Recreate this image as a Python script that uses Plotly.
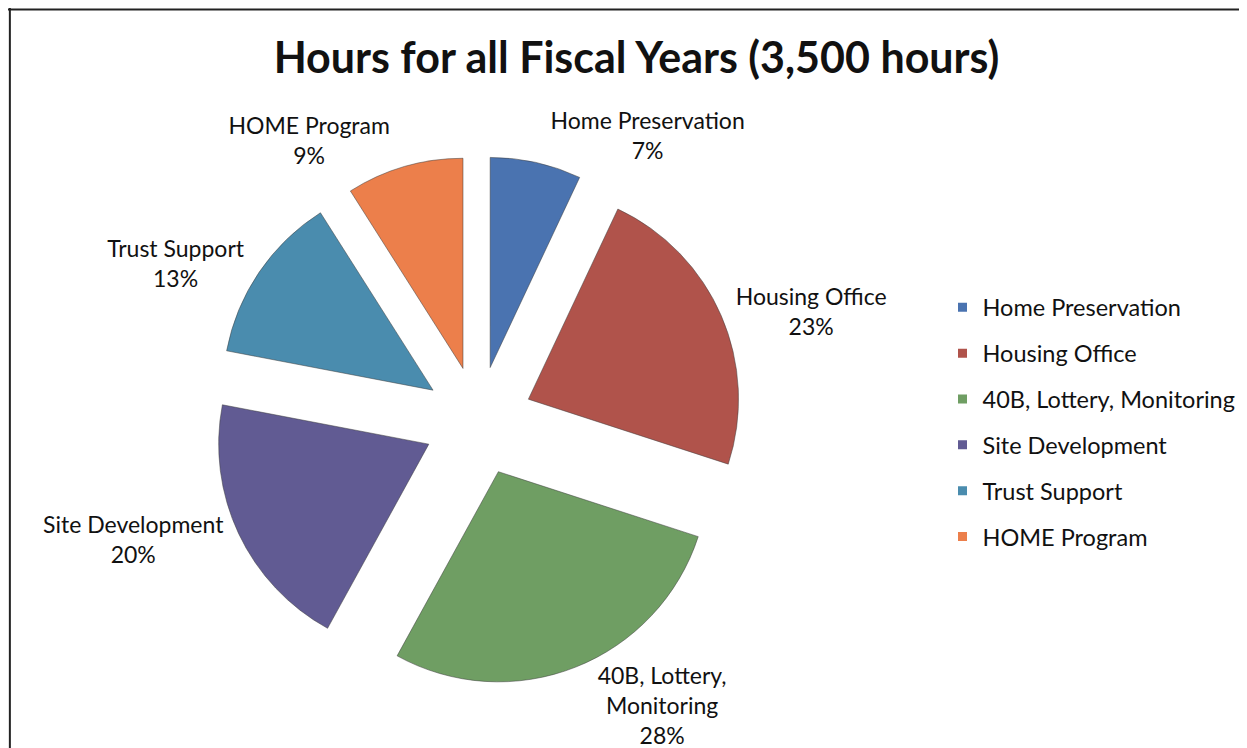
import plotly.graph_objects as go

categories = ["Home Preservation", "Housing Office", "40B, Lottery, Monitoring",
              "Site Development", "Trust Support", "HOME Program"]
slice_text = ["Home Preservation", "Housing Office", "40B, Lottery,<br>Monitoring",
              "Site Development", "Trust Support", "HOME Program"]
hours = [245, 805, 980, 700, 455, 315]  # 7%, 23%, 28%, 20%, 13%, 9% of 3,500 hours
colors = ["#4a73b0", "#b0534b", "#6f9e63", "#615b93", "#4a8cae", "#ec7f4b"]

W, H = 1247, 748
FONT = "Lato"

fig = go.Figure()
fig.add_trace(go.Pie(
    labels=categories, values=hours, text=slice_text, sort=False,
    direction="clockwise", rotation=0,
    marker=dict(colors=colors, line=dict(color="rgba(60,60,60,0.5)", width=1)),
    pull=[0.26] * len(hours),
    textposition="outside", texttemplate="%{text}<br>%{percent:.0%}",
    textfont=dict(family=FONT, size=23, color="#111"),
    showlegend=False, automargin=False,
    domain=dict(x=[0.1646, 0.5896], y=[0.094, 0.802]),
))

# legend entries (one group each so the row spacing can match)
for c, col in zip(categories, colors):
    fig.add_trace(go.Scatter(
        x=[None], y=[None], mode="markers", name=c, legendgroup=c,
        marker=dict(symbol="square", size=9, color=col),
    ))

fig.update_layout(
    width=W, height=H, autosize=False,
    margin=dict(l=0, r=0, t=0, b=0, pad=0, autoexpand=False),
    paper_bgcolor="white", plot_bgcolor="white",
    title=dict(text="<b>Hours for all Fiscal Years (3,500 hours)</b>", x=0.504, xanchor="center",
               y=0.933, yanchor="middle", font=dict(family=FONT, size=43, color="#111")),
    xaxis=dict(visible=False), yaxis=dict(visible=False),
    legend=dict(x=0.7494, y=0.629, xanchor="left", yanchor="top", tracegroupgap=12.3,
                font=dict(family=FONT, size=23.5, color="#111"), bgcolor="rgba(0,0,0,0)"),
    shapes=[
        dict(type="line", xref="paper", yref="paper", x0=0.0, x1=1.0, y0=0.998, y1=0.998,
             line=dict(color="#222", width=2)),
        dict(type="line", xref="paper", yref="paper", x0=0.0015, x1=0.0015, y0=0.0, y1=1.0,
             line=dict(color="#222", width=2)),
    ],
)

fig.write_html("out.html")
